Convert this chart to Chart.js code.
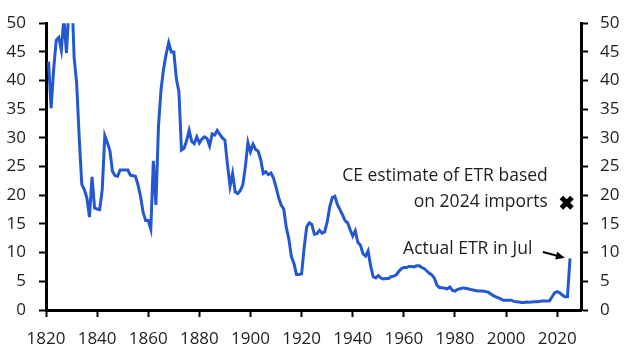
<!DOCTYPE html>
<html><head><meta charset="utf-8">
<script src="https://cdn.jsdelivr.net/npm/chart.js@4/dist/chart.umd.min.js"></script>
<style>html,body{margin:0;padding:0;background:#fff;}#wrap{width:630px;height:355px;position:relative;}</style>
</head><body><div id="wrap"><canvas id="c" width="630" height="355"></canvas></div>
<script>
// ---- data ----
const firstYear = 1821;
const etrValues = [
  43.3, 35.2, 42.0, 47.0, 47.5, 45.3, 51.0, 44.8, 53.0, 57.0, // 1821-1830
  44.0, 39.5, 30.0, 21.9, 21.0, 19.5, 16.2, 23.2, 17.8, 17.6, // 1831-1840
  17.5, 21.0, 30.4, 29.2, 27.8, 24.2, 23.4, 23.3, 24.4, 24.4, // 1841-1850
  24.4, 24.4, 23.5, 23.4, 23.3, 21.8, 19.8, 17.0, 15.6, 15.6, // 1851-1860
  14.1, 26.0, 18.3, 32.0, 38.4, 42.0, 44.6, 46.6, 45.0, 45.0, // 1861-1870
  40.3, 38.0, 27.9, 28.2, 29.5, 31.3, 29.4, 29.0, 30.2, 29.1, // 1871-1880
  29.8, 30.2, 29.9, 28.6, 30.7, 30.5, 31.3, 30.6, 30.0, 29.6, // 1881-1890
  25.3, 21.6, 23.8, 20.6, 20.3, 20.8, 21.8, 25.0, 29.2, 27.6, // 1891-1900
  28.9, 28.0, 27.7, 26.2, 23.8, 24.1, 23.6, 23.9, 23.0, 21.4, // 1901-1910
  19.6, 18.3, 17.6, 14.4, 12.4, 9.3, 8.1, 6.2, 6.2, 6.3,      // 1911-1920
  10.9, 14.5, 15.2, 14.9, 13.2, 13.3, 13.9, 13.4, 13.6, 15.3, // 1921-1930
  18.0, 19.6, 19.8, 18.4, 17.5, 16.6, 15.6, 15.2, 14.0, 12.9, // 1931-1940
  13.8, 11.8, 11.3, 9.8, 9.4, 10.3, 7.7, 5.8, 5.6, 6.0,       // 1941-1950
  5.6, 5.4, 5.5, 5.5, 5.8, 5.9, 6.1, 6.7, 7.2, 7.4,           // 1951-1960
  7.4, 7.6, 7.6, 7.5, 7.7, 7.7, 7.4, 7.2, 6.8, 6.4,           // 1961-1970
  6.1, 5.5, 4.3, 3.9, 3.9, 3.8, 3.7, 4.0, 3.4, 3.3,           // 1971-1980
  3.6, 3.7, 3.85, 3.8, 3.7, 3.6, 3.5, 3.4, 3.3, 3.3,          // 1981-1990
  3.3, 3.2, 3.1, 2.8, 2.5, 2.3, 2.1, 1.9, 1.7, 1.7,           // 1991-2000
  1.7, 1.7, 1.5, 1.45, 1.4, 1.3, 1.3, 1.4, 1.35, 1.4,         // 2001-2010
  1.45, 1.45, 1.5, 1.55, 1.55, 1.55, 1.6, 2.3, 3.0, 3.2,      // 2011-2020
  3.0, 2.6, 2.3, 2.3, 9.0                                     // 2021-2025
];
const years = etrValues.map((_, i) => firstYear + i);
const estimateYear = [2023.7];
const estimateValue = [18.7];
const xTickValues = [1820, 1840, 1860, 1880, 1900, 1920, 1940, 1960, 1980, 2000, 2020];
const yTickValues = [0, 5, 10, 15, 20, 25, 30, 35, 40, 45, 50];
const labelEstimate = ["CE estimate of ETR based", "on 2024 imports"];
const labelActual = "Actual ETR in Jul";

// ---- chart ----
Chart.defaults.font.family = "'Open Sans', sans-serif";
Chart.defaults.font.size = 17;
Chart.defaults.color = '#1e1e1e';

const annot = {
  id: 'annot',
  afterDatasetsDraw(chart) {
    const {ctx, scales: {x, y}} = chart;
    ctx.save();
    ctx.fillStyle = '#1e1e1e';
    ctx.font = "17.5px 'Open Sans', sans-serif";
    ctx.textAlign = 'right';
    ctx.textBaseline = 'middle';
    ctx.fillText(labelEstimate[0], x.getPixelForValue(2016.3), y.getPixelForValue(23.3));
    ctx.fillText(labelEstimate[1], x.getPixelForValue(2016.3), y.getPixelForValue(18.9));
    ctx.fillText(labelActual, x.getPixelForValue(2010.3), y.getPixelForValue(10.6));
    // arrow
    const x0 = x.getPixelForValue(2014.4), y0 = y.getPixelForValue(10.1);
    const x1 = x.getPixelForValue(2023.0), y1 = y.getPixelForValue(9.1);
    const ang = Math.atan2(y1 - y0, x1 - x0);
    ctx.strokeStyle = '#000';
    ctx.lineWidth = 2;
    ctx.beginPath();
    ctx.moveTo(x0, y0);
    ctx.lineTo(x1 - 6 * Math.cos(ang), y1 - 6 * Math.sin(ang));
    ctx.stroke();
    ctx.fillStyle = '#000';
    ctx.beginPath();
    ctx.moveTo(x1, y1);
    ctx.lineTo(x1 - 9 * Math.cos(ang) + 4 * Math.sin(ang), y1 - 9 * Math.sin(ang) - 4 * Math.cos(ang));
    ctx.lineTo(x1 - 9 * Math.cos(ang) - 4 * Math.sin(ang), y1 - 9 * Math.sin(ang) + 4 * Math.cos(ang));
    ctx.closePath();
    ctx.fill();
    ctx.restore();
  }
};

const axisGrid = {drawOnChartArea: false, drawTicks: true, tickLength: 7, tickWidth: 2, tickColor: '#000'};
const axisBorder = {display: true, color: '#000', width: 3};

new Chart(document.getElementById('c'), {
  type: 'line',
  data: {
    datasets: [
      {
        data: years.map((yr, i) => ({x: yr, y: etrValues[i]})),
        borderColor: '#2358D2',
        borderWidth: 3,
        pointRadius: 0,
        tension: 0,
        fill: false
      },
      {
        type: 'scatter',
        data: estimateYear.map((yr, i) => ({x: yr, y: estimateValue[i]})),
        pointStyle: 'crossRot',
        pointRadius: 7.5,
        borderWidth: 5,
        borderColor: '#000',
        backgroundColor: '#000',
        clip: false
      }
    ]
  },
  options: {
    responsive: false,
    animation: false,
    devicePixelRatio: 1,
    layout: {padding: {top: 20, left: 0, right: 0, bottom: 0}},
    plugins: {legend: {display: false}, tooltip: {enabled: false}},
    scales: {
      x: {
        type: 'linear', position: 'bottom', min: 1820, max: 2029.3,
        afterBuildTicks: s => { s.ticks = xTickValues.map(v => ({value: v})); },
        afterFit: s => { s.height = 45; },
        ticks: {callback: v => String(v), padding: 12, maxRotation: 0, autoSkip: false},
        grid: axisGrid, border: axisBorder
      },
      y: {
        position: 'left', min: 0, max: 50,
        afterBuildTicks: s => { s.ticks = yTickValues.map(v => ({value: v})); },
        afterFit: s => { s.width = 46; },
        ticks: {padding: 13},
        grid: axisGrid, border: axisBorder
      },
      y2: {
        position: 'right', min: 0, max: 50,
        afterBuildTicks: s => { s.ticks = yTickValues.map(v => ({value: v})); },
        afterFit: s => { s.width = 49; },
        ticks: {padding: 12},
        grid: axisGrid, border: axisBorder
      }
    }
  },
  plugins: [annot]
});
</script>
</body></html>
